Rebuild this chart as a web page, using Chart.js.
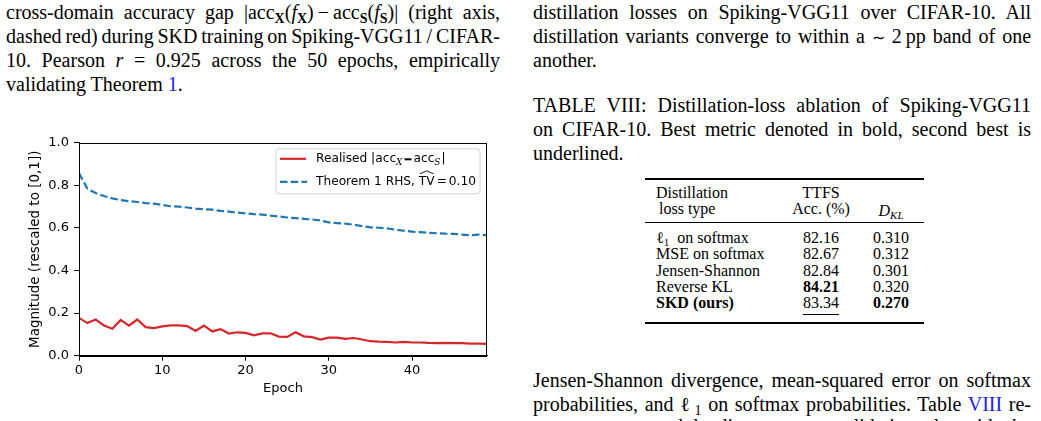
<!DOCTYPE html>
<html><head><meta charset="utf-8">
<script src="https://cdn.jsdelivr.net/npm/chart.js@4.4.1/dist/chart.umd.min.js"></script>
<style>
html,body{margin:0;padding:0;background:#fff;}
body{width:1041px;height:421px;overflow:hidden;position:relative;font-family:"Liberation Serif","Times New Roman",serif;font-size:20px;color:#000;}
.ln{position:absolute;height:24px;line-height:24px;white-space:nowrap;}
.j{text-align:justify;text-align-last:justify;white-space:normal;word-spacing:-3px;}
.L{left:6px;width:494px;}
.R{left:533px;width:498px;}
.sb{font-size:14px;vertical-align:-4px;line-height:0;}
.lk{color:#2020e6;}
.tc{position:absolute;height:16px;line-height:16px;font-size:16px;white-space:nowrap;}
.c2{left:771px;width:100px;text-align:center;}
.c3{left:851px;width:80px;text-align:center;}
.rule{position:absolute;left:645px;width:279px;background:#000;}
#wrap{position:absolute;left:0;top:130px;width:500px;height:270px;}
</style></head><body>

<div class="ln j L" style="top:0px">cross-domain accuracy gap |acc<span class="sb"><b>X</b></span>(<i>f</i><span class="sb"><b>X</b></span>)&#8201;−&#8201;acc<span class="sb"><b>S</b></span>(<i>f</i><span class="sb"><b>S</b></span>)| (right axis,</div>
<div class="ln j L" style="top:24px">dashed red) during SKD training on Spiking-VGG11 / CIFAR-</div>
<div class="ln j L" style="top:48px">10. Pearson <i>r</i> = 0.925 across the 50 epochs, empirically</div>
<div class="ln L" style="top:72px">validating Theorem <span class="lk">1</span>.</div>

<div id="wrap"><canvas id="c" width="500" height="270" style="width:500px;height:270px"></canvas></div>

<div class="ln j R" style="top:0px">distillation losses on Spiking-VGG11 over CIFAR-10. All</div>
<div class="ln j R" style="top:24px">distillation variants converge to within a <span style="font-size:16px">∼</span> 2&#8239;pp band of one</div>
<div class="ln R" style="top:48px">another.</div>

<div class="ln j R" style="top:93px">TABLE VIII: Distillation-loss ablation of Spiking-VGG11</div>
<div class="ln j R" style="top:117px">on CIFAR-10. Best metric denoted in bold, second best is</div>
<div class="ln R" style="top:141px">underlined.</div>

<div class="rule" style="top:178px;height:2px"></div>
<div class="tc" style="left:656px;top:185px">Distillation</div>
<div class="tc c2" style="top:185px">TTFS</div>
<div class="tc" style="left:659px;top:201px">loss type</div>
<div class="tc c2" style="top:201px">Acc. (%)</div>
<div class="tc c3" style="top:203px"><i>D</i><span style="font-size:11px;vertical-align:-3px;line-height:0"><i>KL</i></span></div>
<div class="rule" style="top:222px;height:1.3px"></div>

<div class="tc" style="left:656px;top:230px">ℓ<span style="font-size:11px;vertical-align:-3px;line-height:0">1</span>&nbsp; on softmax</div>
<div class="tc c2" style="top:230px">82.16</div>
<div class="tc c3" style="top:230px">0.310</div>

<div class="tc" style="left:656px;top:246px">MSE on softmax</div>
<div class="tc c2" style="top:246px">82.67</div>
<div class="tc c3" style="top:246px">0.312</div>

<div class="tc" style="left:656px;top:263px">Jensen-Shannon</div>
<div class="tc c2" style="top:263px">82.84</div>
<div class="tc c3" style="top:263px">0.301</div>

<div class="tc" style="left:656px;top:279px">Reverse KL</div>
<div class="tc c2" style="top:279px"><b>84.21</b></div>
<div class="tc c3" style="top:279px">0.320</div>

<div class="tc" style="left:656px;top:295px"><b>SKD (ours)</b></div>
<div class="tc c2" style="top:295px"><span style="text-decoration:underline;text-underline-offset:6px;text-decoration-thickness:1px">83.34</span></div>
<div class="tc c3" style="top:295px"><b>0.270</b></div>
<div class="rule" style="top:322px;height:2px"></div>

<div class="ln j R" style="top:368px">Jensen-Shannon divergence, mean-squared error on softmax</div>
<div class="ln j R" style="top:392px">probabilities, and ℓ<span class="sb">1</span> on softmax probabilities. Table <span class="lk">VIII</span> re-</div>
<div class="ln j R" style="top:414px">ports accuracy and the divergence on validation, alongside the</div>

<script>
// Epoch index (x axis)
const epochs = [0,1,2,3,4,5,6,7,8,9,10,11,12,13,14,15,16,17,18,19,20,21,22,23,24,25,26,27,28,29,30,31,32,33,34,35,36,37,38,39,40,41,42,43,44,45,46,47,48,49];
// Realised |acc_X - acc_S| (rescaled)
const realisedGap = [0.178,0.153,0.170,0.142,0.127,0.168,0.141,0.170,0.134,0.130,0.138,0.142,0.142,0.139,0.116,0.142,0.114,0.125,0.104,0.110,0.107,0.096,0.105,0.105,0.090,0.088,0.110,0.091,0.087,0.076,0.085,0.085,0.079,0.083,0.076,0.068,0.066,0.065,0.062,0.065,0.062,0.062,0.060,0.059,0.060,0.059,0.059,0.057,0.057,0.056];
// Theorem 1 RHS bound (rescaled), TV-hat = 0.10
const theoremRHS = [0.858,0.784,0.764,0.750,0.739,0.731,0.726,0.722,0.717,0.714,0.708,0.702,0.700,0.696,0.691,0.688,0.686,0.680,0.677,0.672,0.668,0.665,0.663,0.658,0.654,0.649,0.646,0.643,0.640,0.635,0.626,0.623,0.620,0.615,0.609,0.603,0.601,0.598,0.592,0.587,0.583,0.580,0.577,0.575,0.573,0.572,0.569,0.566,0.569,0.566];
const yTicks = [0.0,0.2,0.4,0.6,0.8,1.0];
const xTicks = [0,10,20,30,40];
const seriesLabels = ['Realised |acc_X − acc_S|','Theorem 1 RHS, TV = 0.10'];

const RED = '#d62728', BLUE = '#1f77b4';
const FONT = '"DejaVu Sans", sans-serif';

const framePlugin = {
  id: 'frame',
  afterDatasetsDraw(chart){
    const {ctx, chartArea:a} = chart;
    ctx.save();
    ctx.strokeStyle = '#000'; ctx.lineWidth = 1;
    ctx.strokeRect(Math.round(a.left)+0.5, Math.round(a.top)+0.5, Math.round(a.right-a.left)-1, Math.round(a.bottom-a.top));
    ctx.restore();
  },
  afterDraw(chart){
    const {ctx, chartArea:a} = chart;
    ctx.save();
    const bx = a.right - 211, by = a.top + 6, bw = 204, bh = 45, r = 3;
    ctx.beginPath();
    ctx.moveTo(bx+r,by); ctx.lineTo(bx+bw-r,by); ctx.arcTo(bx+bw,by,bx+bw,by+r,r);
    ctx.lineTo(bx+bw,by+bh-r); ctx.arcTo(bx+bw,by+bh,bx+bw-r,by+bh,r);
    ctx.lineTo(bx+r,by+bh); ctx.arcTo(bx,by+bh,bx,by+bh-r,r);
    ctx.lineTo(bx,by+r); ctx.arcTo(bx,by,bx+r,by,r); ctx.closePath();
    ctx.fillStyle = 'rgba(255,255,255,0.85)'; ctx.fill();
    ctx.strokeStyle = '#d0d0d0'; ctx.lineWidth = 1; ctx.stroke();

    const y1 = by + 10, y2 = by + 33;
    const lx0 = bx + 4, lx1 = bx + 30, tx = bx + 40;
    ctx.lineWidth = 2.2;
    ctx.strokeStyle = RED; ctx.setLineDash([]);
    ctx.beginPath(); ctx.moveTo(lx0,y1); ctx.lineTo(lx1,y1); ctx.stroke();
    ctx.strokeStyle = BLUE; ctx.setLineDash([7.5,3.2]);
    ctx.beginPath(); ctx.moveTo(lx0,y2); ctx.lineTo(lx1+1,y2); ctx.stroke();
    ctx.setLineDash([]);

    ctx.fillStyle = '#000'; ctx.textBaseline = 'middle'; ctx.textAlign = 'left';
    const main = '12.2px ' + FONT, sub = 'italic 9px "DejaVu Serif", serif';
    let x = tx;
    const put = (t, f, dy) => { ctx.font = f; ctx.fillText(t, x, y1 + (dy||0)); x += ctx.measureText(t).width; };
    put('Realised |acc', main);
    put('X', sub, 4); x += 2;
    ctx.fillRect(x, y1 - 0.5, 7, 2); x += 9;
    put('acc', main);
    put('S', sub, 4); x += 1;
    put('|', main);

    x = tx;
    const put2 = (t, f) => { ctx.font = f; ctx.fillText(t, x, y2); x += ctx.measureText(t).width; };
    put2('Theorem 1 RHS, ', main);
    const hx0 = x;
    put2('TV', main);
    const hx1 = x;
    ctx.lineWidth = 0.9; ctx.strokeStyle = '#000';
    ctx.beginPath(); ctx.moveTo(hx0+1, y2-8); ctx.lineTo((hx0+hx1)/2, y2-11); ctx.lineTo(hx1-1, y2-8); ctx.stroke();
    x += 2;
    put2('=', main); x += 2;
    put2('0.10', main);
    ctx.restore();
  }
};

new Chart(document.getElementById('c'), {
  type: 'line',
  data: {
    datasets: [
      { label: seriesLabels[0], data: epochs.map((e,i)=>({x:e, y:realisedGap[i]})), borderColor: RED, borderWidth: 2.2, pointRadius: 0, tension: 0, fill: false },
      { label: seriesLabels[1], data: epochs.map((e,i)=>({x:e, y:theoremRHS[i]})), borderColor: BLUE, borderWidth: 2.2, borderDash: [7.5,3.2], pointRadius: 0, tension: 0, fill: false }
    ]
  },
  options: {
    responsive: false, animation: false, devicePixelRatio: 1,
    layout: { padding: { top: 10, right: 13, bottom: 0, left: 0 } },
    plugins: { legend: { display: false }, tooltip: { enabled: false } },
    scales: {
      x: {
        type: 'linear', min: 0, max: 49,
        afterBuildTicks(axis){ axis.ticks = xTicks.map(v=>({value:v})); },
        ticks: { includeBounds: false, autoSkip: false, maxRotation: 0, color: '#000', font: { family: FONT, size: 13 }, padding: 2, callback: v => String(v) },
        grid: { drawOnChartArea: false, drawTicks: true, tickLength: 5, color: '#000' },
        border: { display: true, color: '#000', width: 1 },
        title: { display: true, text: 'Epoch', color: '#000', font: { family: FONT, size: 13 }, padding: { top: 0, bottom: 4 } },
        afterFit(axis){ axis.height = 44.3; }
      },
      y: {
        min: 0, max: 1,
        afterBuildTicks(axis){ axis.ticks = yTicks.map(v=>({value:v})); },
        ticks: { color: '#000', font: { family: FONT, size: 13 }, padding: 5, callback: v => Number(v).toFixed(1) },
        grid: { drawOnChartArea: false, drawTicks: true, tickLength: 5, color: '#000' },
        border: { display: true, color: '#000', width: 1 },
        title: { display: true, text: 'Magnitude (rescaled to [0,1])', color: '#000', font: { family: FONT, size: 13.5 }, padding: { top: 27, bottom: 0 } },
        afterFit(axis){ axis.width = 79; }
      }
    }
  },
  plugins: [framePlugin]
});
</script>
</body></html>
